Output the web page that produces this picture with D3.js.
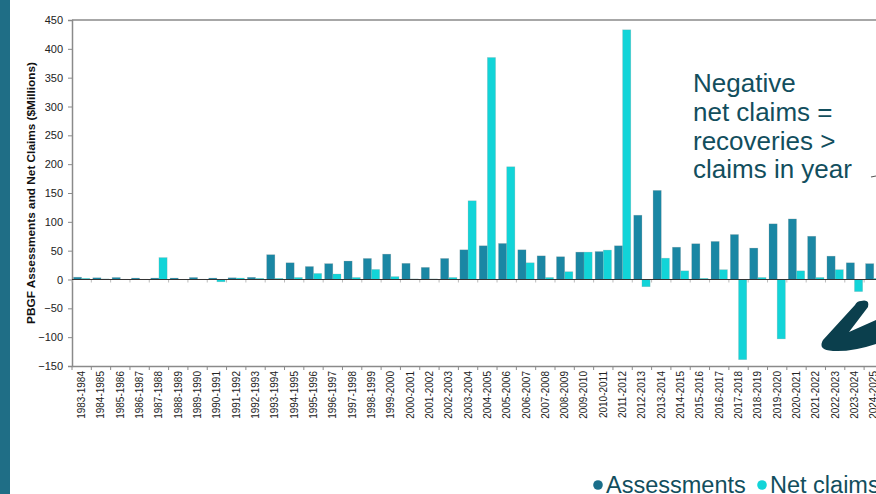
<!DOCTYPE html>
<html>
<head>
<meta charset="utf-8">
<script src="https://cdn.jsdelivr.net/npm/d3@7"></script>
<style>
  html, body { margin: 0; padding: 0; background: #fff; }
  svg { display: block; font-family: "Liberation Sans", Arial, sans-serif; }
</style>
</head>
<body>
<svg id="chart" width="876" height="494"></svg>
<script>
// Fiscal years (PBGF program)
const years = [
  "1983-1984","1984-1985","1985-1986","1986-1987","1987-1988","1988-1989","1989-1990",
  "1990-1991","1991-1992","1992-1993","1993-1994","1994-1995","1995-1996","1996-1997",
  "1997-1998","1998-1999","1999-2000","2000-2001","2001-2002","2002-2003","2003-2004",
  "2004-2005","2005-2006","2006-2007","2007-2008","2008-2009","2009-2010","2010-2011",
  "2011-2012","2012-2013","2013-2014","2014-2015","2015-2016","2016-2017","2017-2018",
  "2018-2019","2019-2020","2020-2021","2021-2022","2022-2023","2023-2024","2024-2025"
];

// Assessments, $ millions
const assessments = [
  4, 3, 3.5, 2.5, 2.5, 2.5, 3.5, 2.5, 3, 3.8,
  43, 29, 22.5, 27.5, 32, 36.5, 44, 28, 21, 36.5,
  51.5, 58.5, 62.5, 51.5, 41, 39.5, 47.5, 48.5, 58.5, 111.5,
  154.5, 56, 62, 66, 78, 54.5, 96.5, 105, 75, 40.5,
  29, 27.5
];

// Net claims, $ millions (negative = recoveries exceeded claims)
const netClaims = [
  2, 1, 0.5, 0.5, 38, 0.3, 0.5, -4, 2.5, 2,
  2, 3.5, 10.5, 9.5, 3.5, 17.5, 5, 1, 1, 3.5,
  136.5, 385, 195.5, 29, 3.5, 13.5, 47.5, 51, 433, -12.5,
  37, 15, 2, 17, -139, 3.5, -103, 15, 3.5, 17,
  -21, 2
];

const yTicks = [-150, -100, -50, 0, 50, 100, 150, 200, 250, 300, 350, 400, 450];
const seriesNames = ["Assessments", "Net claims"];
const colors = { "Assessments": "#1a87a4", "Net claims": "#12d4d8" };

const svg = d3.select("#chart");

// Left accent stripe
svg.append("rect").attr("x", 0).attr("y", 0).attr("width", 10).attr("height", 494)
  .attr("fill", "#1f6e86");

const plotLeft = 72, plotTop = 20, plotBottom = 366;
const step = 19.32;
const plotRight = plotLeft + step * years.length;

const x = d3.scaleBand().domain(years).range([plotLeft, plotRight]).paddingInner(0).paddingOuter(0);
const xs = d3.scaleBand().domain(seriesNames).range([0, x.bandwidth()]).paddingInner(0).paddingOuter(0.18);
const y = d3.scaleLinear().domain([-150, 450]).range([plotBottom, plotTop]);

// Top frame line
svg.append("line").attr("x1", plotLeft).attr("x2", plotRight).attr("y1", plotTop).attr("y2", plotTop)
  .attr("stroke", "#8a8a8a").attr("stroke-width", 1.5);

// Y axis
const yAxis = svg.append("g").attr("transform", `translate(${plotLeft},0)`)
  .call(d3.axisLeft(y).tickValues(yTicks).tickSize(4).tickPadding(5).tickFormat(d3.format("d")));
yAxis.select(".domain").attr("stroke", "#8a8a8a").attr("stroke-width", 1.5);
yAxis.selectAll(".tick line").attr("stroke", "#8a8a8a");
yAxis.selectAll(".tick text").attr("font-size", 11).attr("fill", "#222")
  .attr("font-family", "Liberation Sans, Arial, sans-serif");

// Bottom category axis at -150
const xAxis = svg.append("g").attr("transform", `translate(0,${plotBottom})`)
  .call(d3.axisBottom(x).tickSize(0).tickPadding(4));
xAxis.select(".domain").attr("stroke", "#8a8a8a").attr("stroke-width", 1.5);
xAxis.selectAll(".tick text")
  .attr("font-size", 10).attr("fill", "#222")
  .attr("font-family", "Liberation Sans, Arial, sans-serif")
  .attr("transform", "rotate(-90)")
  .attr("text-anchor", "end")
  .attr("x", -5).attr("y", 0).attr("dy", "0.35em");

// Category boundary ticks on both the bottom axis and the zero line
const bounds = d3.range(years.length + 1).map(i => plotLeft + i * x.step());
svg.append("g").selectAll("line").data(bounds).join("line")
  .attr("x1", d => d).attr("x2", d => d)
  .attr("y1", plotBottom).attr("y2", plotBottom + 4)
  .attr("stroke", "#8a8a8a");
svg.append("g").selectAll("line").data(bounds).join("line")
  .attr("x1", d => d).attr("x2", d => d)
  .attr("y1", y(0)).attr("y2", y(0) + 3)
  .attr("stroke", "#bbbbbb");

// Bars
const rows = years.map((yr, i) => ({ year: yr, "Assessments": assessments[i], "Net claims": netClaims[i] }));
const groups = svg.append("g").selectAll("g").data(rows).join("g")
  .attr("transform", d => `translate(${x(d.year)},0)`);
groups.selectAll("rect")
  .data(d => seriesNames.map(k => ({ key: k, value: d[k] })))
  .join("rect")
  .attr("x", d => xs(d.key))
  .attr("width", xs.bandwidth())
  .attr("y", d => y(Math.max(0, d.value)))
  .attr("height", d => Math.abs(y(d.value) - y(0)))
  .attr("fill", d => colors[d.key])
  .attr("stroke", "rgba(150,150,150,0.35)")
  .attr("stroke-width", 0.6);

// Zero line
svg.append("line").attr("x1", plotLeft).attr("x2", plotRight).attr("y1", y(0)).attr("y2", y(0))
  .attr("stroke", "#333").attr("stroke-width", 1.2);

// Y axis title
svg.append("text")
  .attr("transform", `translate(35,${(plotTop + plotBottom) / 2}) rotate(-90)`)
  .attr("text-anchor", "middle")
  .attr("font-size", 11.8).attr("font-weight", "bold").attr("fill", "#111")
  .text("PBGF Assessments and Net Claims ($Millions)");

// Annotation
const noteLines = ["Negative", "net claims =", "recoveries >", "claims in year"];
svg.append("text").attr("font-size", 26).attr("fill", "#124e5d")
  .selectAll("tspan").data(noteLines).join("tspan")
  .attr("x", 693).attr("y", (d, i) => 92 + i * 28.8)
  .text(d => d);
svg.append("line").attr("x1", 871).attr("x2", 876).attr("y1", 177).attr("y2", 176)
  .attr("stroke", "#555").attr("stroke-width", 1.2);

// Hand-drawn arrowhead
svg.append("path")
  .attr("d", "M861,301 Q870,299 868,307 L849,332 L876,320 L876,344 Q852,352 833,351 Q817,350 823,340 L855,305 Q857,301 861,301 Z")
  .attr("fill", "#0b3f4d");

// Legend
const legend = svg.append("g").attr("font-size", 23.5);
const legendItems = [
  { name: "Assessments", cx: 598, tx: 606 },
  { name: "Net claims", cx: 762, tx: 770 }
];
legend.selectAll("circle").data(legendItems).join("circle")
  .attr("cx", d => d.cx).attr("cy", 485).attr("r", 4.8)
  .attr("fill", d => d.name === "Assessments" ? "#1a6e8a" : "#12d4d8");
legend.selectAll("text").data(legendItems).join("text")
  .attr("x", d => d.tx).attr("y", 493).attr("fill", "#124e5d")
  .text(d => d.name);
</script>
</body>
</html>
